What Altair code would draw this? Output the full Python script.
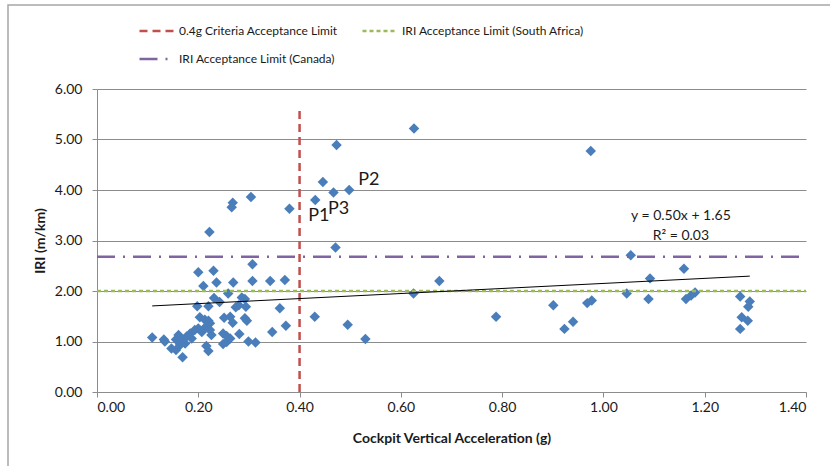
import altair as alt
import pandas as pd

# Cockpit vertical acceleration (g) and IRI (m/km) measured per section
accel = [
    0.626, 0.473, 0.446, 0.498, 0.467, 0.431, 0.380, 0.471, 0.304, 0.268,
    0.266, 0.222, 0.975, 1.054,
    1.159, 1.092, 1.046, 1.089, 0.968, 0.977, 1.163, 1.173, 1.181, 1.270,
    1.289, 1.286, 1.273, 1.285, 1.270, 0.625, 0.676, 0.788, 0.901, 0.923,
    0.940,
    0.430, 0.495, 0.530, 0.371, 0.361, 0.373, 0.346, 0.342, 0.307, 0.307,
    0.200, 0.230, 0.236, 0.269, 0.210, 0.259, 0.231, 0.242, 0.292, 0.286,
    0.198, 0.220, 0.274, 0.280, 0.294, 0.203, 0.213, 0.220, 0.223, 0.251,
    0.263, 0.268, 0.292, 0.296, 0.281, 0.249, 0.256, 0.263, 0.193, 0.200,
    0.207, 0.184, 0.177, 0.161, 0.156, 0.187, 0.174, 0.167, 0.164, 0.134,
    0.147, 0.156, 0.109, 0.132, 0.169, 0.216, 0.220, 0.249, 0.256, 0.299,
    0.313, 0.226, 0.215, 0.223,
]
iri = [
    5.22, 4.89, 4.16, 4.00, 3.95, 3.80, 3.63, 2.86, 3.86, 3.75,
    3.66, 3.17, 4.77, 2.71,
    2.44, 2.25, 1.95, 1.84, 1.76, 1.81, 1.84, 1.91, 1.97, 1.89,
    1.79, 1.69, 1.48, 1.41, 1.25, 1.95, 2.20, 1.49, 1.72, 1.25,
    1.39,
    1.49, 1.33, 1.05, 2.22, 1.66, 1.31, 1.19, 2.20, 2.53, 2.20,
    2.37, 2.40, 2.17, 2.17, 2.10, 1.95, 1.86, 1.78, 1.84, 1.87,
    1.70, 1.70, 1.68, 1.72, 1.69, 1.48, 1.43, 1.41, 1.36, 1.47,
    1.49, 1.37, 1.46, 1.41, 1.15, 1.16, 1.11, 1.06, 1.23, 1.26,
    1.19, 1.16, 1.10, 1.13, 1.04, 1.06, 0.96, 1.01, 0.93, 1.00,
    0.86, 0.83, 1.08, 1.04, 0.69, 0.91, 0.81, 0.95, 0.99, 1.00,
    0.98, 1.13, 1.29, 1.23,
]

# Named sections
label_names = ["P1", "P2", "P3"]
label_accel = [0.431, 0.498, 0.467]
label_iri = [3.80, 4.00, 3.95]

# Acceptance limits (legend fills column by column, so Canada sits second)
limit_names = [
    "0.4g Criteria Acceptance Limit",
    "IRI Acceptance Limit (Canada)",
    "IRI Acceptance Limit (South Africa)",
]
limit_accel = [[0.40, 0.40], [0.0, 1.40], [0.0, 1.40]]
limit_iri = [[0.0, 5.6], [2.68, 2.68], [2.0, 2.0]]
limit_colors = ["#C0504D", "#8064A2", "#9BBB59"]
limit_dashes = [[8, 5], [18, 8, 2, 8], [4, 3]]

# Linear trend
SLOPE, INTERCEPT, R2 = 0.50, 1.65, 0.03
EQ_ACCEL, EQ_IRI = 1.153, 3.49

FONT = "Lato"
TEXT = "#1a1a1a"
W, H = 709, 303

points = pd.DataFrame({"accel": accel, "iri": iri})

limits = pd.DataFrame(
    [
        {"limit": name, "accel": xv, "iri": yv, "pt": i}
        for name, xs, ys in zip(limit_names, limit_accel, limit_iri)
        for i, (xv, yv) in enumerate(zip(xs, ys))
    ]
)

x_lo, x_hi = min(accel), max(accel)
trend = pd.DataFrame(
    {"accel": [x_lo, x_hi], "iri": [SLOPE * x_lo + INTERCEPT, SLOPE * x_hi + INTERCEPT]}
)

eq = pd.DataFrame(
    {
        "accel": [EQ_ACCEL],
        "iri": [EQ_IRI],
        "txt": [f"y = {SLOPE:.2f}x + {INTERCEPT:.2f}\nR\u00b2 = {R2:.2f}"],
    }
)

labels = pd.DataFrame({"name": label_names, "accel": label_accel, "iri": label_iri})

X = alt.X(
    "accel:Q",
    scale=alt.Scale(domain=[0, 1.4], nice=False),
    axis=alt.Axis(
        values=[0, 0.2, 0.4, 0.6, 0.8, 1.0, 1.2, 1.4],
        format=".2f",
        title="Cockpit Vertical Acceleration (g)",
        grid=False,
        tickSize=5,
        labelPadding=3,
        titleY=46,
        titleBaseline="middle",
    ),
)
Y = alt.Y(
    "iri:Q",
    scale=alt.Scale(domain=[0, 6], nice=False),
    axis=alt.Axis(
        values=[0, 1, 2, 3, 4, 5, 6],
        format=".2f",
        title="IRI (m/km)",
        grid=True,
        tickSize=5,
        labelPadding=10,
        titleX=-57,
        titleBaseline="middle",
    ),
)

frame = (
    alt.Chart(pd.DataFrame({"k": [0]}))
    .mark_rect(fill=None, stroke="#a6a6a6", strokeWidth=1.5)
    .encode(
        x=alt.value(-89), x2=alt.value(760), y=alt.value(-84), y2=alt.value(420)
    )
)

limit_legend = alt.Legend(
    title=None,
    orient="none",
    legendX=41,
    legendY=-66,
    columns=2,
    symbolType="stroke",
    symbolSize=1225,
    symbolStrokeWidth=2.5,
    labelFont=FONT,
    labelFontSize=12,
    labelColor=TEXT,
    labelOffset=3,
    labelLimit=400,
    columnPadding=23,
    rowPadding=12,
    clipHeight=16,
    padding=0,
)

limit_layer = (
    alt.Chart(limits)
    .mark_line(strokeWidth=2.5)
    .encode(
        x=X,
        y=Y,
        order="pt:Q",
        color=alt.Color(
            "limit:N",
            scale=alt.Scale(domain=limit_names, range=limit_colors),
            legend=limit_legend,
        ),
        strokeDash=alt.StrokeDash(
            "limit:N",
            scale=alt.Scale(domain=limit_names, range=limit_dashes),
            legend=limit_legend,
        ),
    )
)

trend_layer = (
    alt.Chart(trend)
    .mark_line(color="black", strokeWidth=1)
    .encode(x=X, y=Y)
)

point_layer = (
    alt.Chart(points)
    .mark_point(shape="diamond", filled=True, size=110, color="#4A7EBB", opacity=1)
    .encode(x=X, y=Y)
)

eq_layer = (
    alt.Chart(eq)
    .mark_text(
        font=FONT, fontSize=14, color=TEXT, lineBreak="\n", lineHeight=20,
        align="center", baseline="middle",
    )
    .encode(x=X, y=Y, text="txt:N")
)

label_offsets = {"P1": (-7, 16), "P2": (9, -10), "P3": (-5.5, 16.5)}
label_layers = [
    alt.Chart(labels)
    .transform_filter(alt.datum.name == n)
    .mark_text(
        font=FONT, fontSize=18, color=TEXT, align="left", baseline="middle",
        dx=label_offsets[n][0], dy=label_offsets[n][1],
    )
    .encode(x=X, y=Y, text="name:N")
    for n in label_names
]

chart = (
    alt.layer(point_layer, limit_layer, trend_layer, eq_layer, *label_layers, frame)
    .properties(
        width=W,
        height=H,
        background="white",
        autosize=alt.AutoSizeParams(type="none"),
        padding={"left": 97, "top": 89, "right": 24, "bottom": 74},
    )
    .configure_view(stroke=None)
    .configure_axis(
        labelFont=FONT,
        labelFontSize=14,
        labelColor=TEXT,
        titleFont=FONT,
        titleFontSize=14,
        titleFontWeight="bold",
        titleColor=TEXT,
        domainColor="#8c8c8c",
        tickColor="#8c8c8c",
        gridColor="#8c8c8c",
        domainWidth=1,
        gridWidth=1,
    )
)

chart.save("out.html", embed_options={"renderer": "svg", "actions": False})
